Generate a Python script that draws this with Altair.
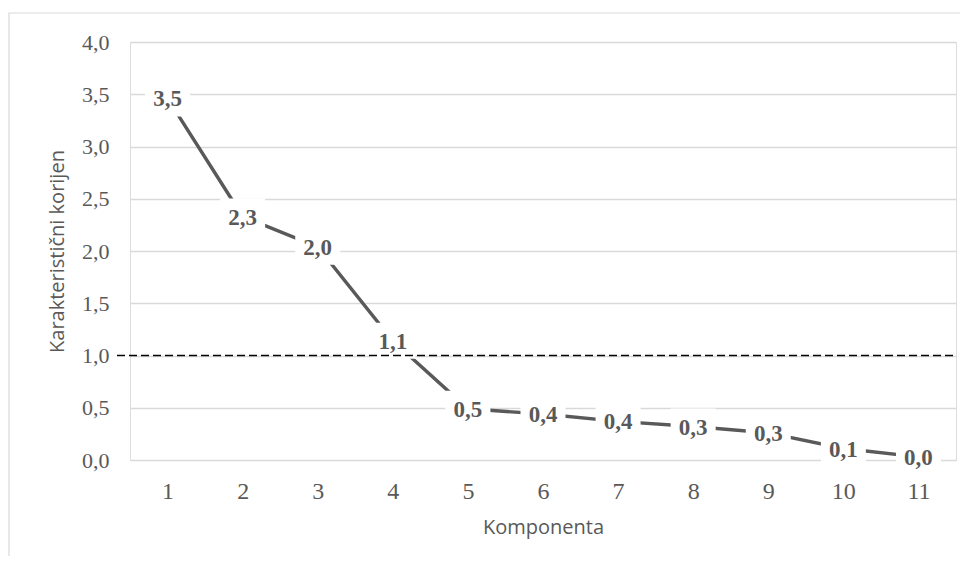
import altair as alt
import pandas as pd

components = [1, 2, 3, 4, 5, 6, 7, 8, 9, 10, 11]
eigenvalues = [3.46, 2.33, 2.04, 1.14, 0.49, 0.44, 0.37, 0.32, 0.26, 0.11, 0.03]
threshold = [1.0]

df = pd.DataFrame({"k": components, "v": eigenvalues})
thr = pd.DataFrame({"t": threshold})

GRAY = "#595959"
SERIF = "Liberation Serif"
SANS = "Open Sans"

x_enc = alt.X("k:O", title="Komponenta",
              axis=alt.Axis(labelAngle=0, labelFont=SERIF, labelFontSize=24,
                            labelColor=GRAY, ticks=False, tickSize=0, domain=False,
                            labelPadding=19, titleFont=SANS, titleFontSize=20,
                            titleFontWeight="normal", titleColor=GRAY, titlePadding=14, grid=False))
y_enc = alt.Y("v:Q", title="Karakteristični korijen",
              scale=alt.Scale(domain=[0, 4], nice=False, zero=True),
              axis=alt.Axis(values=[0, 0.5, 1, 1.5, 2, 2.5, 3, 3.5, 4],
                            labelExpr="replace(format(datum.value, '.1f'), '.', ',')",
                            labelFont=SERIF, labelFontSize=22, labelColor=GRAY,
                            ticks=False, tickSize=0, domain=False, labelPadding=21,
                            grid=True, gridColor="#d9d9d9", gridWidth=1.4,
                            titleFont=SANS, titleFontSize=20, titleFontWeight="normal",
                            titleColor=GRAY, titlePadding=14))

base = alt.Chart(df)

border = alt.Chart(thr).mark_rect(fill=None, stroke="#d9d9d9", strokeWidth=1.2).encode(
    x=alt.value(-121), x2=alt.value(1200), y=alt.value(-29), y2=alt.value(900))

line = base.mark_line(color=GRAY, strokeWidth=3.4).encode(x=x_enc, y=y_enc)

boxes = base.mark_point(shape="M-1,-0.8L1,-0.8L1,0.8L-1,0.8Z", filled=True, fill="white",
                        opacity=1, size=2025, strokeWidth=0).encode(x="k:O", y="v:Q")

labels = base.transform_calculate(
    lab="replace(format(datum.v, '.1f'), '.', ',')"
).mark_text(font=SERIF, fontSize=23, fontWeight="bold", color=GRAY,
            baseline="middle", align="center", dy=1).encode(
    x="k:O", y="v:Q", text="lab:N")

rule = alt.Chart(thr).mark_rule(color="black", strokeWidth=1.6, strokeDash=[8, 4]).encode(
    y="t:Q", x=alt.value(-13), x2=alt.value(823))

chart = alt.layer(border, line, boxes, labels, rule).properties(
    width=826, height=418,
    autosize=alt.AutoSizeParams(type="none"),
    padding={"left": 122, "top": 34, "right": 4, "bottom": 96},
).configure_view(stroke=None).configure(background="white")

chart.save("out.html", embed_options={"renderer": "svg", "actions": False})
